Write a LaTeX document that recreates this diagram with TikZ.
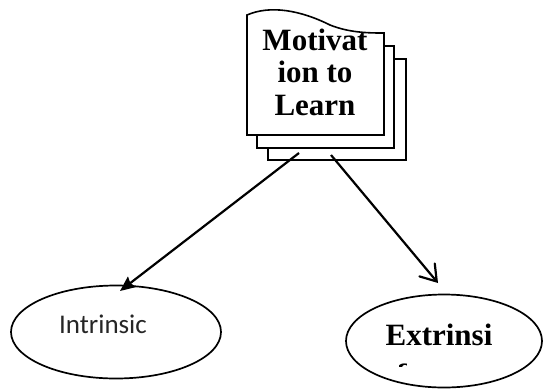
\documentclass[tikz,border=0pt]{standalone}
\usepackage{fontspec}
\usetikzlibrary{arrows.meta}
\newfontfamily\timesfont{Liberation Serif}
\newfontfamily\calibfont{Carlito}
\tikzset{
  page/.style={draw=black, line width=1.6pt, fill=white},
  oval/.style={draw=black, line width=1.7pt},
  boldlabel/.style={font=\timesfont\bfseries\fontsize{31}{32.5}\selectfont, inner sep=0pt, align=center},
  softlabel/.style={font=\calibfont\fontsize{27}{30}\selectfont, text=black!85, inner sep=0pt},
  link/.style={line width=2.2pt}
}
\begin{document}
\begin{tikzpicture}[x=1pt, y=-1pt]
  \useasboundingbox (0,0) rectangle (543,389);
  \fill[white] (0,0) rectangle (543,389);

  % stacked pages, back to front
  \draw[page] (268,59) rectangle (406,160);
  \draw[page] (257,46) rectangle (394,148);
  \draw[page] (247,135) -- (247,15)
      .. controls (270,5) and (300,10) .. (330,25)
      .. controls (350,33) and (370,33) .. (384,33) -- (384,135) -- cycle;
  % anchor=base sits on the last line of the block
  \node[boldlabel, anchor=base] (motiv) at (315,115) {Motivat\\ion to\\Learn};

  % the two kinds of motivation
  \draw[oval] (116,332) ellipse [x radius=105, y radius=46.5];
  \node[softlabel, anchor=base] (intr) at (103,333) {Intrinsic};

  \draw[oval] (444,341) ellipse [x radius=98, y radius=46.5];
  \node[boldlabel, anchor=base] (extr) at (439,345) {Extrinsi};
  % second line of the label, cut off by the text frame
  \begin{scope}
    \clip (399,363.5) rectangle (406,366.5);
    \node[boldlabel, anchor=base] (extrc) at (403,378) {c};
  \end{scope}

  % connectors
  \coordinate (fromL) at (299,153);
  \coordinate (fromR) at (331,155);
  \coordinate (toL) at (120,291);
  \coordinate (toR) at (438,283);
  \draw[link, -{Stealth[length=15pt, width=13pt, inset=2pt]}] (fromL) -- (toL);
  \draw[link, -{Straight Barb[length=15pt, width=20pt, line cap=round]}] (fromR) -- (toR);
\end{tikzpicture}
\end{document}
